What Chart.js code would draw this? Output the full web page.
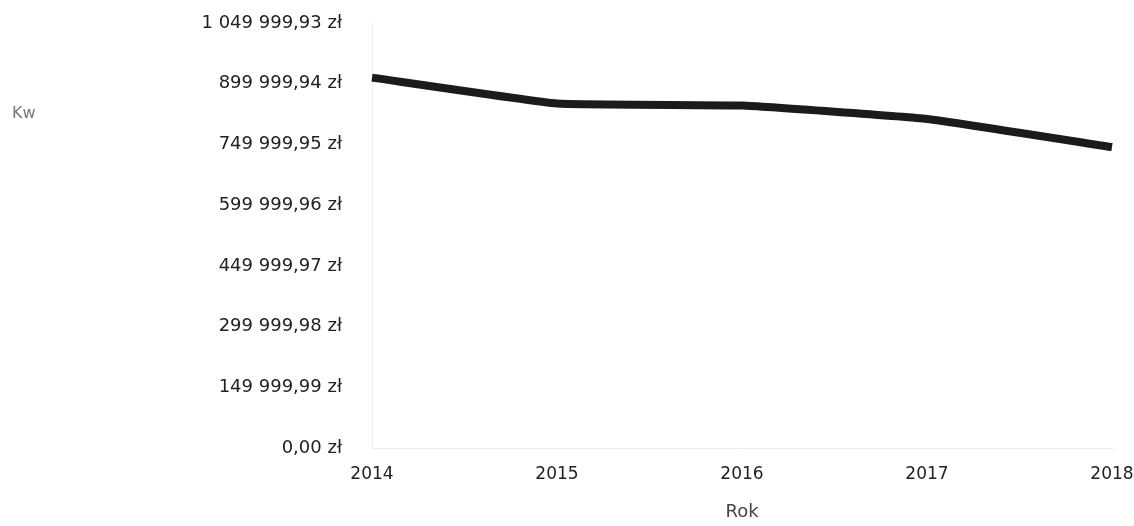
<!DOCTYPE html>
<html>
<head>
<meta charset="utf-8">
<script src="https://cdn.jsdelivr.net/npm/chart.js@4/dist/chart.umd.min.js"></script>
<style>
  html, body { margin: 0; padding: 0; background: #fff; }
  #wrap { width: 1134px; height: 526px; }
</style>
</head>
<body>
<div id="wrap"><canvas id="kwChart" width="1134" height="526"></canvas></div>
<script>
// yearly amounts (zł)
const years = ['2014', '2015', '2016', '2017', '2018'];
const amounts = [915000, 851000, 846000, 813000, 743500];
const yTicks = [0, 149999.99, 299999.98, 449999.97, 599999.96, 749999.95, 899999.94, 1049999.93];

// "1 049 999,93 zł"
function formatZl(v) {
    const parts = v.toFixed(2).split('.');
    const whole = parts[0].replace(/\B(?=(\d{3})+(?!\d))/g, ' ');
    return whole + ',' + parts[1] + ' zł';
}

// horizontal "Kw" label left of the value axis
const sideLabel = {
    id: 'sideLabel',
    afterDraw(chart) {
        const ctx = chart.ctx;
        ctx.save();
        ctx.font = '16px "DejaVu Sans"';
        ctx.fillStyle = '#777';
        ctx.textAlign = 'left';
        ctx.textBaseline = 'middle';
        ctx.fillText('Kw', 12, 114);
        ctx.restore();
    }
};

const ctx = document.getElementById('kwChart').getContext('2d');

new Chart(ctx, {
    type: 'line',
    data: {
        labels: years,
        datasets: [
            {
                label: 'Kw',
                data: amounts,
                borderColor: '#1b1b1b',
                borderWidth: 8,
                tension: 0.1,
                pointRadius: 0,
                fill: false
            }
        ]
    },
    options: {
        responsive: false,
        animation: false,
        layout: {
            padding: { top: 23, right: 22, left: 0, bottom: 0 }
        },
        plugins: {
            legend: { display: false },
            tooltip: { enabled: false }
        },
        scales: {
            x: {
                offset: false,
                grid: { display: false, drawTicks: false },
                border: { display: true, color: '#ececec', width: 1, dash: [2, 5] },
                ticks: {
                    color: '#222',
                    font: { family: 'DejaVu Sans', size: 17 },
                    padding: 16,
                    maxRotation: 0
                },
                title: {
                    display: true,
                    text: 'Rok',
                    color: '#444',
                    font: { family: 'DejaVu Sans', size: 18 },
                    padding: { top: 10, bottom: 3 }
                },
                afterFit(scale) {
                    scale.height = 78;
                    scale.paddingLeft = 0;
                    scale.paddingRight = 0;
                }
            },
            y: {
                min: 0,
                max: 1049999.93,
                grid: { display: false, drawTicks: false },
                border: { display: true, color: '#ececec', width: 1, dash: [2, 5] },
                afterBuildTicks(scale) {
                    scale.ticks = yTicks.map(v => ({ value: v }));
                },
                ticks: {
                    color: '#222',
                    font: { family: 'DejaVu Sans', size: 18 },
                    padding: 30,
                    callback: (v) => formatZl(v)
                },
                afterFit(scale) {
                    scale.width = 372;
                    scale.paddingTop = 0;
                    scale.paddingBottom = 0;
                }
            }
        }
    },
    plugins: [sideLabel]
});
</script>
</body>
</html>
